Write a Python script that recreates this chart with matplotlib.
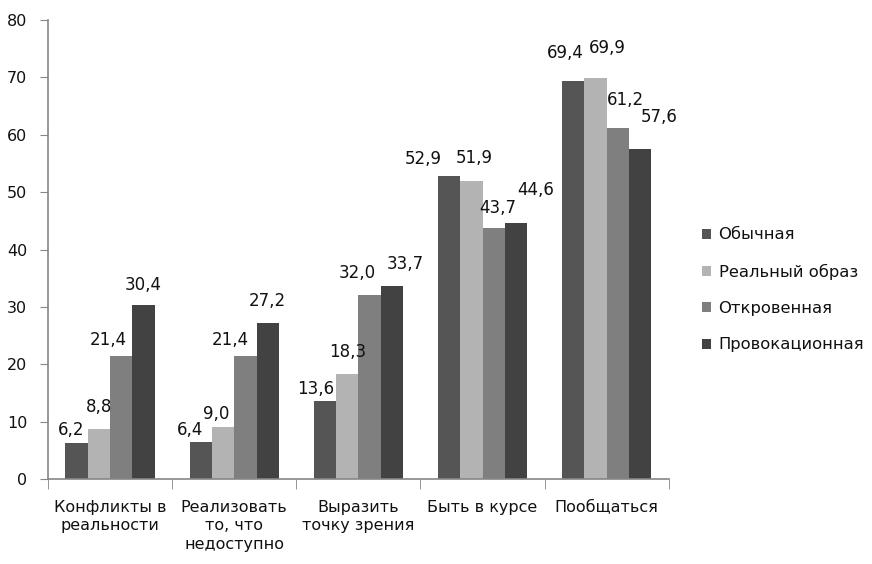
import numpy as np
import matplotlib.pyplot as plt

plt.rcParams['font.family'] = ['DejaVu Sans']

categories = ['Конфликты в\nреальности', 'Реализовать\nто, что\nнедоступно',
              'Выразить\nточку зрения', 'Быть в курсе', 'Пообщаться']
series = ['Обычная', 'Реальный образ', 'Откровенная', 'Провокационная']
obychnaya = [6.2, 6.4, 13.6, 52.9, 69.4]
realny = [8.8, 9.0, 18.3, 51.9, 69.9]
otkrovennaya = [21.4, 21.4, 32.0, 43.7, 61.2]
provokacionnaya = [30.4, 27.2, 33.7, 44.6, 57.6]
values = [obychnaya, realny, otkrovennaya, provokacionnaya]
colors = ['#555555', '#b3b3b3', '#7f7f7f', '#424242']

# смещения подписей (пиксели), как в исходной диаграмме
label_dx = [[-5, -11, -9, -26, -8],
            [0, -7, 0, 3, 12],
            [-13, -15, -12, 4, 8],
            [0, 0, 13, 20, 19]]
label_dy = [[4, 3, 3, 8, 19],
            [13, 4, 13, 14, 21],
            [7, 7, 13, 11, 19],
            [11, 13, 13, 24, 23]]

fig = plt.figure(figsize=(8.72, 5.64), dpi=100)
ax = fig.add_axes([0.055, 0.1507, 0.712, 0.8138])

x = np.arange(len(categories))
w = 0.18
for i, (name, vals) in enumerate(zip(series, values)):
    pos = x + (i - 1.5) * w
    ax.bar(pos, vals, width=w, color=colors[i], label=name, zorder=2)
    for j, (p, v) in enumerate(zip(pos, vals)):
        ax.annotate(f'{v:.1f}'.replace('.', ','), xy=(p, v),
                    xytext=(label_dx[i][j], label_dy[i][j]), textcoords='offset pixels',
                    ha='center', va='bottom', fontsize=12, color='#111111', zorder=3)

ax.set_xlim(-0.5, len(categories) - 0.5)
ax.set_ylim(0, 80)
ax.set_yticks(range(0, 81, 10))
ax.set_xticks(x)
ax.set_xticklabels(categories, fontsize=11.5, linespacing=1.3, va='top', color='#111111')
ax.set_xticks(np.arange(-0.5, len(categories), 1), minor=True)
ax.tick_params(axis='x', which='major', length=0, pad=15)
ax.tick_params(axis='x', which='minor', length=7, color='#868686', direction='out')
ax.tick_params(axis='y', length=6, color='#868686', labelsize=11.5, pad=9,
               labelcolor='#111111')

for s in ['top', 'right']:
    ax.spines[s].set_visible(False)
for s in ['left', 'bottom']:
    ax.spines[s].set_color('#868686')
    ax.spines[s].set_linewidth(1.2)

leg = ax.legend(loc='center left', bbox_to_anchor=(1.03, 0.412), frameon=False,
                fontsize=11.8, handlelength=0.55, handleheight=0.55, handletextpad=0.45,
                labelspacing=1.3)
for t in leg.get_texts():
    t.set_color('#111111')

fig.savefig('out.png', dpi=100)
